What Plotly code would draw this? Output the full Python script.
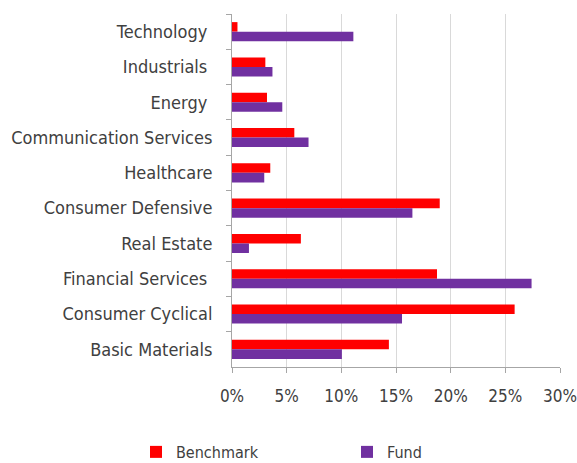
import plotly.graph_objects as go

categories = ["Technology\u00a0", "Industrials\u00a0", "Energy\u00a0", "Communication Services",
              "Healthcare", "Consumer Defensive", "Real Estate", "Financial Services\u00a0",
              "Consumer Cyclical", "Basic Materials"]
benchmark = [0.5, 3.05, 3.2, 5.7, 3.5, 19.0, 6.3, 18.75, 25.85, 14.35]
fund = [11.1, 3.7, 4.6, 7.0, 2.95, 16.5, 1.55, 27.4, 15.55, 10.05]
x_ticks = [0, 5, 10, 15, 20, 25, 30]
x_tick_labels = ["0%", "5%", "10%", "15%", "20%", "25%", "30%"]

FONT = "DejaVu Sans Condensed, sans-serif"
TEXT = "#404040"

fig = go.Figure()
fig.add_trace(go.Bar(y=categories, x=benchmark, name="Benchmark", orientation="h",
                     marker=dict(color="#FF0000", line=dict(width=0)), legend="legend"))
fig.add_trace(go.Bar(y=categories, x=fund, name="Fund", orientation="h",
                     marker=dict(color="#7030A0", line=dict(width=0)), legend="legend2"))

leg_common = dict(orientation="h", xref="container", yref="container",
                  xanchor="left", yanchor="middle",
                  font=dict(family=FONT, size=16, color=TEXT),
                  itemwidth=30, bgcolor="rgba(0,0,0,0)")

fig.update_layout(
    width=577, height=463,
    margin=dict(l=232, r=17, t=14, b=96, autoexpand=False),
    barmode="group", bargap=0.46, bargroupgap=0,
    plot_bgcolor="white", paper_bgcolor="white",
    font=dict(family=FONT, size=18, color=TEXT),
    showlegend=True,
    legend=dict(x=0.2357, y=0.0238, **leg_common),
    legend2=dict(x=0.6014, y=0.0238, **leg_common),
)
fig.update_xaxes(range=[0, 30], tickvals=x_ticks, ticktext=x_tick_labels,
                 tickfont=dict(size=17),
                 showgrid=True, gridcolor="#d9d9d9", gridwidth=1,
                 showline=True, linecolor="#a6a6a6", linewidth=1,
                 ticks="outside", ticklen=5, tickcolor="#a6a6a6",
                 ticklabelstandoff=9, ticklabeloverflow="allow",
                 zeroline=False, automargin=False)
fig.update_yaxes(autorange="reversed", type="category", tickson="boundaries",
                 showline=True, linecolor="#a6a6a6", linewidth=1,
                 ticks="outside", ticklen=5, tickcolor="#a6a6a6",
                 ticklabelstandoff=15, showgrid=False, automargin=False)

fig.write_html("out.html",
               config={"displayModeBar": False},
               post_script="document.body.style.margin='0';document.body.style.overflow='hidden';")
